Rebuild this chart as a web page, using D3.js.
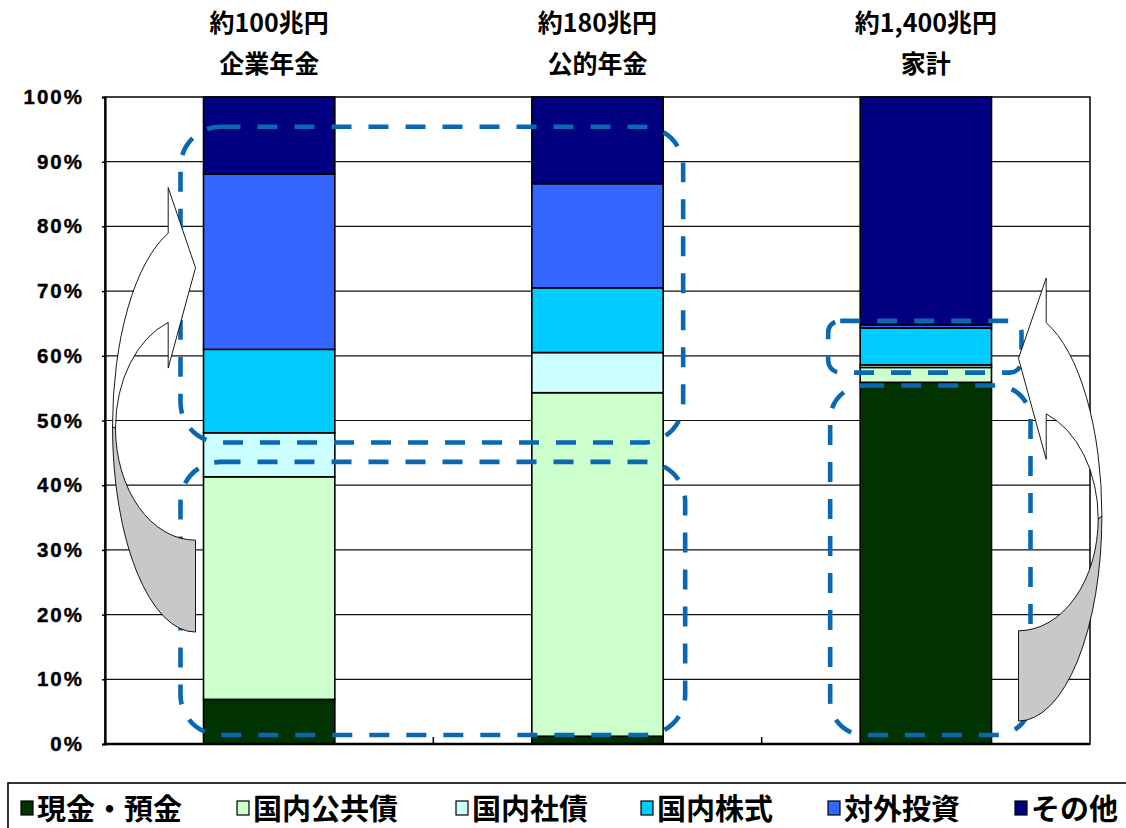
<!DOCTYPE html>
<html>
<head>
<meta charset="utf-8">
<script src="https://cdn.jsdelivr.net/npm/d3@7"></script>
<style>
  html, body { margin: 0; padding: 0; background: #fff; }
  svg { display: block; }
  .cjk { font-family: "Noto Sans CJK JP", "Noto Sans", sans-serif; font-weight: 700; }
  .num { font-family: "Liberation Sans", Arial, sans-serif; font-weight: 700; }
</style>
</head>
<body>
<svg id="chart" width="1126" height="828"></svg>
<script>
// Asset composition (%) of three holder groups
const categories = ["企業年金", "公的年金", "家計"];
const totals = ["約100兆円", "約180兆円", "約1,400兆円"];
const seriesNames = ["現金・預金", "国内公共債", "国内社債", "国内株式", "対外投資", "その他"];
const seriesColors = ["#003300", "#CCFFCC", "#CCFFFF", "#00CCFF", "#3366FF", "#000080"];

const cashDeposits = [6.9, 1.2, 55.9];
const domesticPublicBonds = [34.4, 53.1, 2.3];
const domesticCorpBonds = [6.8, 6.2, 0.4];
const domesticStocks = [12.9, 10.0, 5.7];
const foreignInvest = [27.1, 16.1, 0.5];
const others = [11.9, 13.4, 35.2];

const yTickValues = [0, 10, 20, 30, 40, 50, 60, 70, 80, 90, 100];

const seriesValues = [cashDeposits, domesticPublicBonds, domesticCorpBonds, domesticStocks, foreignInvest, others];

const svg = d3.select("#chart");
const plotLeft = 105, plotRight = 1090, plotTop = 97, plotBottom = 744;

const x = d3.scaleBand().domain(categories).range([plotLeft, plotRight]).paddingInner(0.6).paddingOuter(0.3);
const y = d3.scaleLinear().domain([0, 100]).range([plotBottom, plotTop]);

// rows for the stack
const rows = categories.map((c, i) => {
  const r = { cat: c };
  seriesNames.forEach((s, k) => r[s] = seriesValues[k][i]);
  return r;
});
const stacked = d3.stack().keys(seriesNames)(rows);

// grid lines
svg.append("g").selectAll("line").data(yTickValues.filter(v => v > 0 && v < 100)).join("line")
  .attr("x1", plotLeft).attr("x2", plotRight)
  .attr("y1", d => y(d)).attr("y2", d => y(d))
  .attr("stroke", "#111").attr("stroke-width", 1.2);

// frame
svg.append("rect").attr("x", plotLeft).attr("y", plotTop).attr("width", plotRight - plotLeft).attr("height", plotBottom - plotTop)
  .attr("fill", "none").attr("stroke", "#000").attr("stroke-width", 1.5);

// bars
svg.append("g").selectAll("g").data(stacked).join("g")
  .attr("fill", (d, i) => seriesColors[i])
  .selectAll("rect").data(d => d).join("rect")
  .attr("x", d => x(d.data.cat))
  .attr("width", x.bandwidth())
  .attr("y", d => y(d[1]))
  .attr("height", d => y(d[0]) - y(d[1]))
  .attr("stroke", "#000").attr("stroke-width", 1.6);

// axes
const yAxis = d3.axisLeft(y).tickValues(yTickValues).tickSize(3).tickFormat(d => d + "%");
const gy = svg.append("g").attr("transform", `translate(${plotLeft},0)`).call(yAxis);
gy.attr("font-family", null).attr("font-size", null);
gy.select(".domain").attr("stroke", "#000").attr("stroke-width", 2.2);
gy.selectAll(".tick line").attr("stroke", "#000").attr("stroke-width", 1.5);
gy.selectAll(".tick text").attr("class", "num").attr("x", -21).attr("font-size", 20.5)
  .attr("letter-spacing", "2px").attr("fill", "#000").attr("stroke", "#000").attr("stroke-width", 0.4);

// bottom axis with category separators
const step = x.step();
svg.append("line").attr("x1", plotLeft).attr("x2", plotRight).attr("y1", plotBottom).attr("y2", plotBottom)
  .attr("stroke", "#000").attr("stroke-width", 2.4);
svg.append("g").selectAll("line").data(categories.slice(1)).join("line")
  .attr("x1", d => x(d) - step * x.paddingInner() / 2)
  .attr("x2", d => x(d) - step * x.paddingInner() / 2)
  .attr("y1", plotBottom).attr("y2", plotBottom - 7)
  .attr("stroke", "#000").attr("stroke-width", 1.5);

// header labels above each column
const head = svg.append("g").attr("class", "cjk").attr("text-anchor", "middle").attr("font-size", 25).attr("fill", "#000");
head.selectAll("text.t1").data(categories).join("text").attr("class", "t1")
  .attr("x", d => x(d) + x.bandwidth() / 2).attr("y", 32).text((d, i) => totals[i]);
head.selectAll("text.t2").data(categories).join("text").attr("class", "t2")
  .attr("x", d => x(d) + x.bandwidth() / 2).attr("y", 73).text(d => d);

// dashed groupings
const blue = "#0A67B1";
const groups = [
  { from: categories[0], to: categories[1], hi: 95.4, lo: 46.6, padL: 23, padR: 20, r: 40 },
  { from: categories[0], to: categories[1], hi: 43.6, lo: 1.4, padL: 23, padR: 22, r: 40 },
  { from: categories[2], to: categories[2], hi: 65.4, lo: 57.4, padL: 32, padR: 30, r: 12 },
  { from: categories[2], to: categories[2], hi: 55.4, lo: 1.4, padL: 30, padR: 39, r: 34 }
];
svg.append("g").selectAll("rect").data(groups).join("rect")
  .attr("x", d => x(d.from) - d.padL)
  .attr("width", d => x(d.to) + x.bandwidth() + d.padR - (x(d.from) - d.padL))
  .attr("y", d => y(d.hi))
  .attr("height", d => y(d.lo) - y(d.hi))
  .attr("rx", d => d.r).attr("ry", d => d.r)
  .attr("fill", "none").attr("stroke", blue).attr("stroke-width", 4.6)
  .attr("stroke-dasharray", "20 17");

// curved block arrows showing the shift between groups
const arrows = [
  { cat: categories[0], side: "left", offset: 8, dir: -1, headDepth: 27.3, rxO: 83, rxI: 80,
    outer: [80.7, 17.3], inner: [66.2, 31.5], head: [86.0, 73.6, 58.1] },
  { cat: categories[2], side: "right", offset: 27, dir: 1, headDepth: 27.7, rxO: 83.4, rxI: 79.7,
    outer: [66.9, 3.55], inner: [52.1, 17.5], head: [72.0, 59.6, 44.0] }
];
const ag = svg.append("g");
arrows.forEach(a => {
  const tailX = a.side === "left" ? x(a.cat) - a.offset : x(a.cat) + x.bandwidth() + a.offset;
  const baseX = tailX + a.dir * a.headDepth;
  const oTop = y(a.outer[0]), oBot = y(a.outer[1]);
  const iTop = y(a.inner[0]), iBot = y(a.inner[1]);
  const cyO = (oTop + oBot) / 2, ryO = (oBot - oTop) / 2;
  const cyI = (iTop + iBot) / 2, ryI = (iBot - iTop) / 2;
  const yOJ = cyO - ryO * Math.sqrt(1 - (a.headDepth / a.rxO) ** 2);
  const yIJ = cyI - ryI * Math.sqrt(1 - (a.headDepth / a.rxI) ** 2);
  const oExt = [tailX + a.dir * a.rxO, cyO];
  const iExt = [tailX + a.dir * a.rxI, cyI];
  const up = a.dir < 0 ? 1 : 0, down = 1 - up;

  const back = `M${oExt[0]},${oExt[1]} A${a.rxO},${ryO} 0 0 ${down} ${tailX},${oBot}` +
    ` L${tailX},${iBot} A${a.rxI},${ryI} 0 0 ${up} ${iExt[0]},${iExt[1]} Z`;
  const front = `M${oExt[0]},${oExt[1]} A${a.rxO},${ryO} 0 0 ${up} ${baseX},${yOJ}` +
    ` L${baseX},${y(a.head[0])} L${tailX},${y(a.head[1])} L${baseX},${y(a.head[2])}` +
    ` L${baseX},${yIJ} A${a.rxI},${ryI} 0 0 ${down} ${iExt[0]},${iExt[1]} Z`;
  ag.append("path").attr("d", back).attr("fill", "#C8C8C8").attr("stroke", "#000").attr("stroke-width", 0.9);
  ag.append("path").attr("d", front).attr("fill", "#fff").attr("stroke", "#000").attr("stroke-width", 0.9);
});

// legend
const lg = svg.append("g");
lg.append("rect").attr("x", 8).attr("y", 783).attr("width", 1140).attr("height", 60)
  .attr("fill", "#fff").attr("stroke", "#000").attr("stroke-width", 1.6);
const legendX = [21, 237, 456, 641, 828, 1015];
const items = lg.selectAll("g.item").data(seriesNames).join("g").attr("class", "item")
  .attr("transform", (d, i) => `translate(${legendX[i]},0)`);
items.append("rect").attr("x", 0).attr("y", 801).attr("width", 12).attr("height", 14)
  .attr("fill", (d, i) => seriesColors[i]).attr("stroke", "#000").attr("stroke-width", 1.2);
items.append("text").attr("class", "cjk").attr("x", 16).attr("y", 820)
  .attr("font-size", 29).attr("fill", "#000").text(d => d);
</script>
</body>
</html>
